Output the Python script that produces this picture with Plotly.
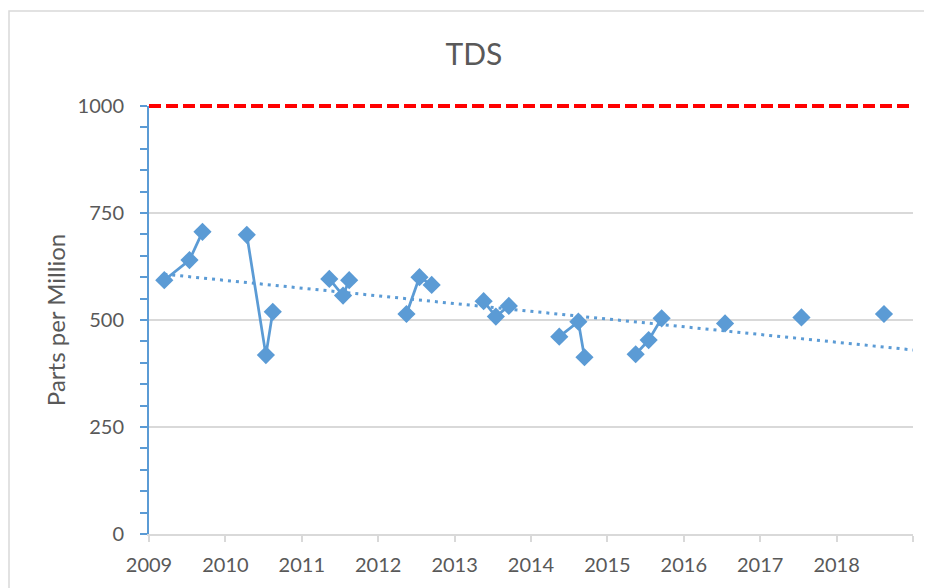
import plotly.graph_objects as go

# colours taken from the Excel-style chart
BLUE = "#5B9BD5"
GRID = "#D9D9D9"
TEXT = "#595959"
RED = "#FF0000"
FONT = "Lato"

# sampling dates (decimal years) and TDS readings, grouped by sampling season
years = [2009.20, 2009.53, 2009.70,
         2010.28, 2010.53, 2010.62,
         2011.36, 2011.54, 2011.62,
         2012.37, 2012.54, 2012.70,
         2013.38, 2013.54, 2013.71,
         2014.37, 2014.62, 2014.70,
         2015.37, 2015.54, 2015.71,
         2016.54, 2017.54, 2018.62]
tds = [593, 640, 706,
       699, 418, 519,
       596, 557, 593,
       514, 600, 582,
       544, 508, 533,
       461, 496, 413,
       420, 453, 504,
       492, 506, 514]
season = [2009, 2009, 2009, 2010, 2010, 2010, 2011, 2011, 2011, 2012, 2012, 2012,
          2013, 2013, 2013, 2014, 2014, 2014, 2015, 2015, 2015, 2016, 2017, 2018]

# linear trend line end points
trend_years = [2009.20, 2019.0]
trend_tds = [607, 430]

STANDARD = 1000
Y_MAX = 1000
year_ticks = list(range(2009, 2020))
year_labels = [str(y) for y in range(2009, 2019)] + [""]
ppm_ticks = [0, 250, 500, 750, 1000]

# break the line between seasons
xs, ys = [], []
for i, (x, y) in enumerate(zip(years, tds)):
    if i and season[i] != season[i - 1]:
        xs.append(None)
        ys.append(None)
    xs.append(x)
    ys.append(y)

fig = go.Figure()

fig.add_trace(go.Scatter(
    x=trend_years, y=trend_tds, mode="lines",
    line=dict(color=BLUE, width=3, dash="3px,5px"),
    hoverinfo="skip", showlegend=False,
))
fig.add_trace(go.Scatter(
    x=xs, y=ys, mode="lines+markers", connectgaps=False,
    line=dict(color=BLUE, width=2.75),
    marker=dict(symbol="diamond", size=14, color=BLUE),
    name="TDS", showlegend=False,
))

# drinking water standard (paper refs so the line is not clipped at the top edge)
fig.add_shape(type="line", xref="paper", x0=0, x1=1, yref="paper",
              y0=STANDARD / Y_MAX, y1=STANDARD / Y_MAX,
              line=dict(color=RED, width=4, dash="12px,5px"), layer="above")

# page body has an 8px margin, so the figure is offset by 8px
PL, PW, PT, PH = 141, 764, 98, 428

# outer chart border
fig.add_shape(type="rect", xref="paper", yref="paper",
              x0=(1 - PL) / PW, x1=(960 - PL) / PW, y0=-0.3, y1=(PT + PH - 3) / PH,
              line=dict(color=GRID, width=1.5), layer="below")

fig.update_layout(
    width=932, height=588,
    margin=dict(l=PL, r=932 - PL - PW, t=PT, b=588 - PT - PH, autoexpand=False),
    plot_bgcolor="white", paper_bgcolor="white",
    font=dict(family=FONT, color=TEXT, size=20),
    title=dict(text="TDS", xref="container", x=(474 - 8) / 932, xanchor="center",
               yref="container", y=1 - 46 / 588, yanchor="middle",
               font=dict(family=FONT, size=30, color=TEXT)),
)

fig.update_xaxes(
    range=[2009, 2019], tickvals=year_ticks, ticktext=year_labels,
    showgrid=False, zeroline=False, automargin=False,
    showline=True, linecolor=GRID, linewidth=2,
    ticks="outside", ticklen=6, tickwidth=1.5, tickcolor=GRID,
    ticklabelstandoff=6,
)
fig.update_yaxes(
    range=[0, Y_MAX], tickvals=ppm_ticks, automargin=False,
    showgrid=True, gridcolor=GRID, gridwidth=1.5, zeroline=False,
    showline=True, linecolor=BLUE, linewidth=2,
    ticks="outside", ticklen=7, tickwidth=1.5, tickcolor=BLUE,
    minor=dict(dtick=50, ticks="outside", ticklen=7, tickwidth=1.5, tickcolor=BLUE, showgrid=False),
    ticklabelstandoff=12,
    title=dict(text="Parts per Million", standoff=5, font=dict(size=24, color=TEXT)),
)

fig.write_html("out.html")
